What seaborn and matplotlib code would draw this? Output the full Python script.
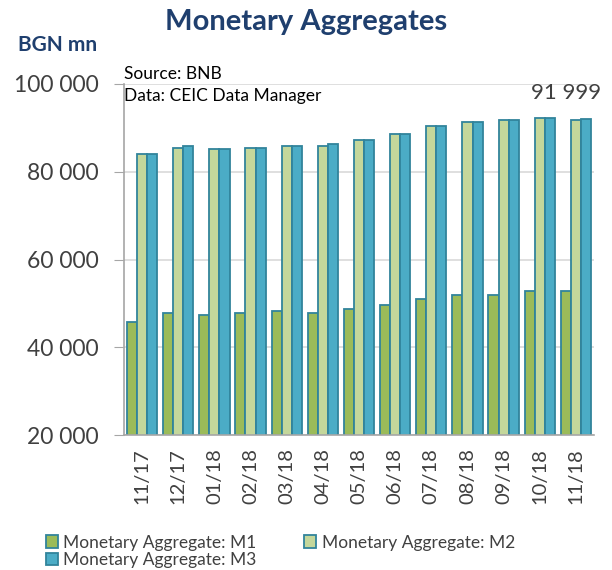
import matplotlib
matplotlib.use("Agg")
import matplotlib.pyplot as plt
import seaborn as sns
import pandas as pd
from matplotlib.ticker import FuncFormatter
from matplotlib.patches import Patch

months = ["11/17", "12/17", "01/18", "02/18", "03/18", "04/18", "05/18",
          "06/18", "07/18", "08/18", "09/18", "10/18", "11/18"]
m1 = [45800, 47700, 47270, 47700, 48180, 47700, 48700, 49540, 50900, 51820, 51820, 52730, 52730]
m2 = [83940, 85450, 85080, 85450, 85900, 85900, 87270, 88630, 90460, 91370, 91750, 92210, 91750]
m3 = [83940, 85900, 85080, 85450, 85900, 86360, 87270, 88630, 90460, 91370, 91750, 92210, 91999]
series = ["Monetary Aggregate: M1", "Monetary Aggregate: M2", "Monetary Aggregate: M3"]
colors = ["#9BBB59", "#C4D79B", "#4BACC6"]
edge = "#31849B"
label_text = "91 999"

df = pd.DataFrame({
    "month": months * 3,
    "value": m1 + m2 + m3,
    "series": [series[0]] * len(months) + [series[1]] * len(months) + [series[2]] * len(months),
})

sns.set_style("white")
plt.rcParams["font.family"] = ["Lato", "DejaVu Sans"]

fig = plt.figure(figsize=(6.12, 5.70), dpi=100)
ax = fig.add_axes([124 / 612, 1 - 435 / 570, (594 - 124) / 612, (435 - 84) / 570])

sns.barplot(data=df, x="month", y="value", hue="series", palette=colors,
            edgecolor=edge, linewidth=1.3, width=0.84, ax=ax, legend=False,
            saturation=1)

ax.set_ylim(20000, 100000)
ax.set_yticks([20000, 40000, 60000, 80000, 100000])
ax.yaxis.set_major_formatter(FuncFormatter(lambda v, p: f"{int(v):,}".replace(",", " ")))
ax.grid(axis="y", color="#D9D9D9", linewidth=1.2)
ax.set_axisbelow(True)
for s in ["top", "right"]:
    ax.spines[s].set_visible(False)
for s in ["left", "bottom"]:
    ax.spines[s].set_color("#A6A6A6")
    ax.spines[s].set_linewidth(1.2)
ax.tick_params(axis="y", which="both", left=True, length=7, color="#A6A6A6",
               labelsize=16.5, labelcolor="#404040", pad=11)
ax.tick_params(axis="x", bottom=False, labelsize=14.5, labelcolor="#404040",
               labelrotation=90, pad=6)
ax.set_xlabel("")
ax.set_ylabel("")

ax.text(11.72, 95600, label_text, ha="center", va="bottom", fontsize=16, color="#404040")
ax.text(0.0, 1.005, "Source: BNB", transform=ax.transAxes, ha="left", va="bottom",
        fontsize=12.5, color="#000000")
ax.text(0.0, 0.99, "Data: CEIC Data Manager", transform=ax.transAxes, ha="left", va="top",
        fontsize=12.5, color="#000000")

fig.text(0.5, 1 - 22 / 570, "Monetary Aggregates", ha="center", va="center",
         fontsize=21, fontweight="bold", color="#1F3F6E")
fig.text(18 / 612, 1 - 45 / 570, "BGN mn", ha="left", va="center",
         fontsize=15, fontweight="bold", color="#1F3F6E")

order = [0, 2, 1]
handles = [Patch(facecolor=colors[i], edgecolor=edge, linewidth=1.3) for i in order]
labels = [series[i] for i in order]
fig.legend(handles, labels, loc="lower left", bbox_to_anchor=(44 / 612, 0.0),
           ncol=2, frameon=False, fontsize=12.5, handlelength=0.7, handleheight=0.7,
           handletextpad=0.3, columnspacing=2.75, labelspacing=0.1,
           borderaxespad=0.0, borderpad=0.1, labelcolor="#404040")

fig.savefig("out.png", dpi=100)
